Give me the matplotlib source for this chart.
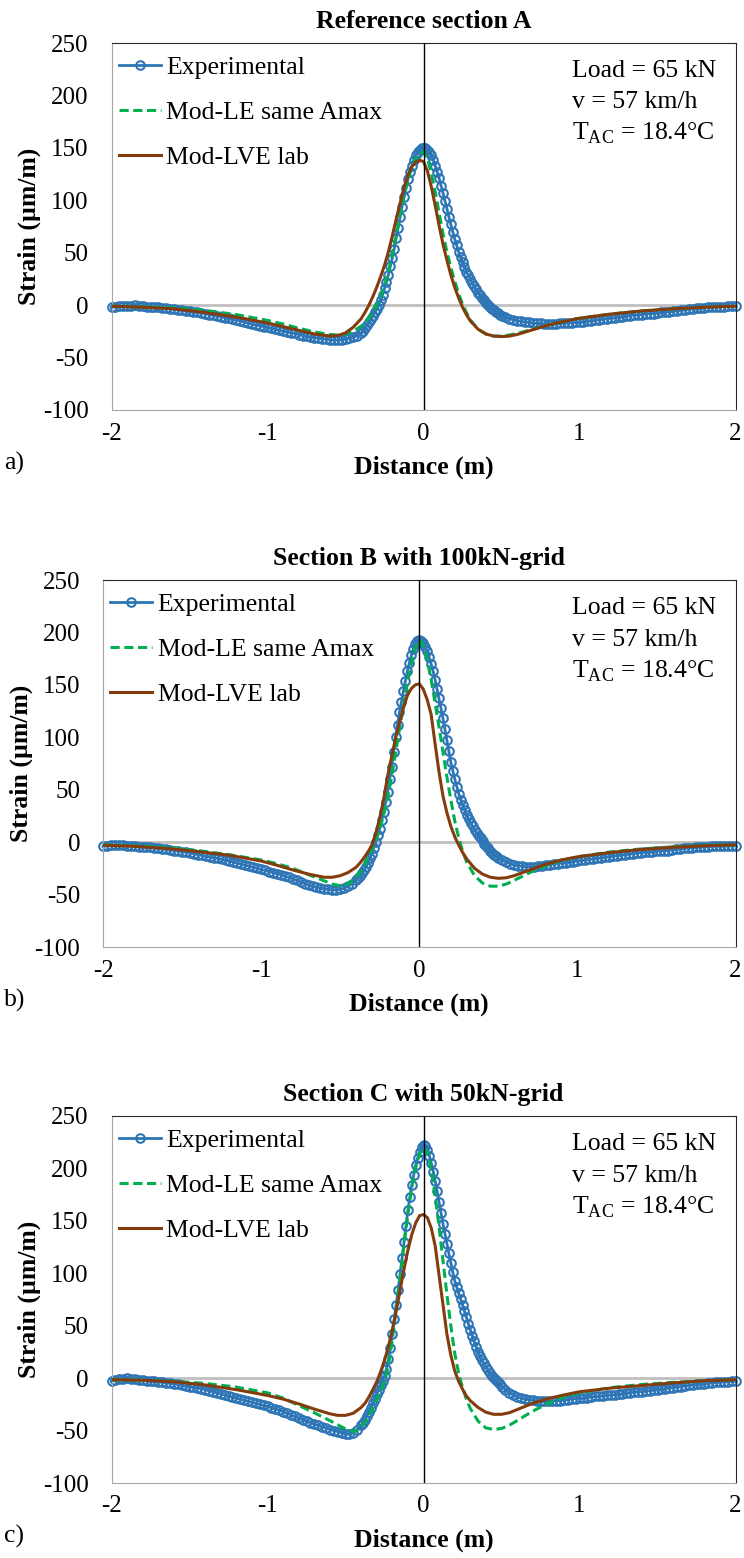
import matplotlib
matplotlib.use('Agg')
import matplotlib.pyplot as plt
import numpy as np

plt.rcParams['font.family'] = ['Liberation Serif', 'DejaVu Serif']
plt.rcParams['axes.unicode_minus'] = False
plt.rcParams['mathtext.fontset'] = 'custom'
plt.rcParams['mathtext.rm'] = 'Liberation Serif'

# ---------------- data (strain in micro-strain, distance in m) ----------------
x_ticks = [-2, -1, 0, 1, 2]
y_ticks = [-100, -50, 0, 50, 100, 150, 200, 250]

# experimental gauge signal: every 0.025 m from -2 to -0.425,
# every 0.0125 m from -0.4 to 0.5, every 0.025 m from 0.525 to 2
exp_x = np.concatenate([np.linspace(-2.0, -0.425, 64),
                        np.linspace(-0.4, 0.5, 73),
                        np.linspace(0.525, 2.0, 60)])

exp_a = [
    -2, -1.5, -1, -1, -1, -0.5, 0, -0.5, -1, -1.5,
    -1.5, -2, -2, -2.5, -3, -3.5, -4, -4.5, -5, -5.5,
    -6, -6.5, -7, -7.5, -8, -9, -9.5, -10.5, -11, -12,
    -12.5, -13.5, -14, -15, -16, -17, -18, -19, -19.5, -20.5,
    -21, -22, -23, -24, -25, -25.5, -26.5, -27, -28, -29,
    -29.5, -30.5, -31, -31.5, -32, -32.5, -33, -33.5, -33.5, -33,
    -32.5, -31.5, -30.5, -29,
    # fine part
    -27, -25, -22, -19, -16, -13, -10, -7,
    -4, 0.5, 5, 10, 16, 22, 29, 37,
    45, 54, 64, 74, 84, 94, 103, 112,
    120, 127, 133, 138.5, 143, 146, 148, 149.5,
    150, 149.5, 148, 146, 143, 138.5, 133, 127,
    121, 114, 107, 99.5, 92, 84.5, 77, 70,
    63, 57, 51, 46, 41, 36.5, 32, 28.5,
    25, 21.5, 18, 15, 12, 9.5, 7, 4.5,
    2, 0, -1.5, -3.5, -5, -6.5, -7.5, -9,
    -10,
    # right tail
    -11.5, -13, -14, -15, -15.5, -16, -16.5, -17, -17.5, -17.5,
    -18, -18, -18, -18, -17.5, -17.5, -17, -17, -16.5, -16.5,
    -16, -15.5, -15, -14.5, -14, -13.5, -13, -12.5, -12, -11.5,
    -11, -10.5, -10, -9.5, -9.5, -9, -8.5, -8, -8, -7.5,
    -7, -6.5, -6.5, -6, -5.5, -5, -4.5, -4, -3.5, -3,
    -3, -2.5, -2, -2, -1.5, -1.5, -1.5, -1, -1, -1,
]
exp_b = [
    -4, -3.5, -3, -3, -3, -3, -3.5, -3.5, -4, -4.5,
    -4.5, -5, -5, -5.5, -6, -6.5, -7, -7.5, -8, -8.5,
    -9, -9.5, -10.5, -11, -12, -12.5, -13.5, -14, -15, -15.5,
    -16.5, -17, -18, -19, -20, -21, -22, -23, -24, -25,
    -26, -27, -28, -29, -30, -31, -32.5, -33.5, -35, -36.5,
    -38, -39.5, -41, -42, -43, -44, -44.5, -45, -45.5, -45.5,
    -45, -44, -42, -39.5,
    # fine part
    -36, -34, -32, -29.5, -27, -23.5, -20, -15.5,
    -11, -5.5, 0, 6.5, 13, 21, 29, 38,
    48, 60, 72, 86, 100, 112, 124, 134,
    144, 154, 163, 171, 178, 184, 189, 191.5,
    193, 192, 190, 186.5, 182, 176.5, 170, 163,
    155, 146, 137, 127.5, 118, 107.5, 97, 86.5,
    76, 68, 60, 53, 46, 40.5, 35, 30.5,
    26, 22, 18.5, 15, 12, 9, 6, 3.5,
    1, -1.5, -4, -6, -8, -10, -12, -13.5,
    -15,
    # right tail
    -17, -19, -20.5, -22, -22.5, -23, -23.5, -23.5, -23.5, -23,
    -22.5, -22, -21.5, -21, -20.5, -20, -19.5, -19, -18.5, -18,
    -17.5, -17, -16.5, -16, -15.5, -15, -14.5, -14, -13.5, -13,
    -12.5, -12, -11.5, -11, -10.5, -10, -9.5, -9.5, -9, -8.5,
    -8.5, -8, -8, -7.5, -7, -6.5, -6, -5.5, -5.5, -5,
    -5, -4.5, -4.5, -4, -4, -4, -4, -3.5, -3.5, -3.5,
]
exp_c = [
    -3, -2, -1, -0.5, 0, -0.5, -1, -1.5, -2, -2.5,
    -3, -3, -3.5, -4, -4.5, -5, -5.5, -6, -7, -7.5,
    -8, -8.5, -9.5, -10, -11, -12, -13, -14, -15, -16,
    -17, -18, -19, -20, -21, -22, -23, -24, -25, -26,
    -27, -28, -29.5, -30.5, -32, -33.5, -35, -36.5, -38, -39.5,
    -41, -42.5, -44, -45, -46.5, -47.5, -49, -50, -51, -52,
    -53, -53.5, -52, -49.5,
    # fine part
    -45, -43, -40, -36, -32, -28, -24, -19.5,
    -15, -11, -7, -2.5, 2, 9, 18, 29,
    42, 56, 70, 84.5, 99, 114.5, 130, 145,
    160, 172.5, 184, 194, 203, 210, 216, 220,
    222, 221, 218, 212, 205, 197, 188, 178,
    168, 157.5, 147, 137.5, 128, 119, 110, 101.5,
    93, 87, 81, 75.5, 70, 64, 58, 52,
    46, 40.5, 35, 30, 25, 21, 17, 14,
    11, 8, 5, 2.5, 0, -2, -4, -6,
    -8,
    # right tail
    -11, -14, -16, -18, -19, -20, -20.5, -21, -21.5, -22,
    -22, -22, -22, -21.5, -21.5, -21, -20.5, -20, -19.5, -19,
    -19, -18.5, -18, -17.5, -17.5, -17, -16.5, -16, -16, -15.5,
    -15, -14.5, -14, -13.5, -13, -13, -12.5, -12, -11.5, -11,
    -10.5, -10, -9.5, -9, -8.5, -8, -7.5, -7, -6.5, -6,
    -5.5, -5.5, -5, -4.5, -4, -4, -3.5, -3.5, -3, -3,
]

# model responses
model_x = [-2.0, -1.8, -1.6, -1.4, -1.2, -1.0,
           -0.9, -0.8, -0.7, -0.6,
           -0.55, -0.5, -0.45, -0.4,
           -0.375, -0.35, -0.325, -0.3,
           -0.275, -0.25, -0.225, -0.2,
           -0.175, -0.15, -0.125, -0.1,
           -0.075, -0.05, -0.025, 0.0,
           0.025, 0.05, 0.075, 0.1,
           0.125, 0.15, 0.175, 0.2,
           0.225, 0.25, 0.275, 0.3,
           0.35, 0.4, 0.45, 0.5,
           0.55, 0.6, 0.7, 0.8,
           0.9, 1.0, 1.2, 1.4,
           1.6, 1.8, 2.0]

le_a = [-1, -1.5, -2.5, -5, -9, -14.5,
        -18, -22, -25.5, -28,
        -28.5, -27.5, -25, -20,
        -16.5, -12, -6, 0,
        8, 19, 32, 48,
        66, 86, 104, 119,
        131, 140, 145, 146,
        140, 126, 108, 88,
        68, 51, 36, 23,
        11, 1, -7, -14,
        -23, -27.5, -29.5, -29.5,
        -28.5, -27, -23, -19,
        -15.5, -12.5, -8.5, -5.5,
        -3.5, -2, -1]
lve_a = [-1, -2, -3.5, -7, -11.5, -17,
         -20.5, -24, -27.5, -29.5,
         -29, -26.5, -21, -13,
         -7, 0, 8, 17,
         27, 38, 51, 66,
         82, 97, 112, 124,
         132, 136.5, 138, 137,
         128, 113, 95, 76,
         58, 43, 29, 17,
         7, -2, -9, -15,
         -23, -27.5, -29.5, -30,
         -29.5, -28, -23.5, -19,
         -15.5, -12.5, -8.5, -5.5,
         -3.5, -2, -1]

le_b = [-2.5, -3.5, -5, -8, -12, -17,
        -20.5, -25, -31, -37,
        -40, -41.5, -40, -34,
        -29, -23, -15, -7,
        2, 12, 26, 42,
        62, 85, 108, 130,
        152, 170, 185, 193,
        188, 174, 155, 133,
        110, 86, 62, 40,
        20, 4, -9, -19,
        -32, -39, -42, -42,
        -40, -36.5, -29, -22.5,
        -17.5, -14, -9.5, -6.5,
        -4.5, -3, -2.5]
lve_b = [-3, -4, -6, -9, -12.5, -18,
         -22, -26.5, -30.5, -33.5,
         -33.5, -32, -29, -24,
         -20, -15, -9.5, -3,
         8, 23, 41, 63,
         81, 99, 114, 128,
         140, 146.5, 150, 151,
         146, 136, 122, 94,
         67, 44, 28, 15,
         5, -3, -10, -16,
         -25, -30.5, -33.5, -34.5,
         -34, -32, -26.5, -21,
         -17, -14, -10, -7,
         -5, -3.5, -2.5]

le_c = [-1.5, -2, -3, -5, -8.5, -14,
        -19, -26, -33, -40.5,
        -44.5, -48.5, -51, -47,
        -42, -36, -28.5, -20,
        -11.5, -4, 12, 36,
        66, 96, 127, 156,
        182, 201, 214, 220,
        215, 199, 174, 144,
        112, 80, 50, 24,
        5, -9, -20, -29,
        -41, -47.5, -49, -48,
        -45, -40.5, -31.5, -24,
        -18, -14, -9, -6,
        -4, -2.5, -1.5]
lve_c = [-1.5, -2, -3.5, -6.5, -11, -16.5,
         -20, -24.5, -29.5, -34,
         -35.5, -35.5, -33.5, -28,
         -24, -18, -11, -3.5,
         6, 17, 30, 46,
         64, 84, 104, 122,
         137, 148, 155, 156,
         153, 143, 126, 98,
         70, 42, 22, 7,
         -3, -10.5, -17, -21.5,
         -28, -32.5, -34.5, -34.5,
         -33, -30, -24, -19.5,
         -16, -13, -9.5, -7,
         -4.5, -2.5, -1.5]

titles = ['Reference section A', 'Section B with 100kN-grid', 'Section C with 50kN-grid']
tags = ['a)', 'b)', 'c)']
info = ['Load = 65 kN', 'v = 57 km/h', r'T$_{\mathregular{AC}}$ = 18.4°C']

BLUE = '#2E75B6'
GREEN = '#00B050'
BROWN = '#843C0C'

# ---------------- layout (pixels of a 744 x 1558 image) ----------------
W, H = 744, 1558
boxes = [(111.5, 43, 735.5, 410), (103, 580, 735.5, 947), (111.5, 1116, 735.5, 1483)]
FS = 18.5

fig = plt.figure(figsize=(W / 100, H / 100), dpi=100)

series = [(exp_a, le_a, lve_a), (exp_b, le_b, lve_b), (exp_c, le_c, lve_c)]
for (exp, le, lve), title, tag, (l, t, r, b) in zip(series, titles, tags, boxes):
    pw, ph = r - l, b - t
    ax = fig.add_axes([l / W, 1 - b / H, pw / W, ph / H])

    ax.axhline(0, color='#BFBFBF', lw=2, zorder=1)
    ax.plot(exp_x, exp, color=BLUE, lw=2, marker='o', ms=6.2, mfc='none', mew=1.5,
            label='Experimental', zorder=2, clip_on=False)
    ax.plot(model_x, le, color=GREEN, lw=2.2, ls=(0, (3, 1.5)),
            label='Mod-LE same Amax', zorder=3)
    ax.plot(model_x, lve, color=BROWN, lw=2.2, label='Mod-LVE lab', zorder=4)
    ax.axvline(0, color='black', lw=1, zorder=5)

    ax.set_xlim(-2, 2)
    ax.set_ylim(-100, 250)
    ax.set_xticks(x_ticks)
    ax.set_yticks(y_ticks)
    ax.tick_params(length=0, labelsize=18)
    ax.tick_params(axis='y', pad=16.5)
    ax.tick_params(axis='x', pad=9)
    for side in ['left', 'bottom']:
        ax.spines[side].set_color('#A6A6A6')
    for side in ['top', 'right']:
        ax.spines[side].set_color('#262626')
    for sp in ax.spines.values():
        sp.set_linewidth(0.8)

    ax.legend(loc='upper left', bbox_to_anchor=(7 / pw, 1 - 13 / ph), frameon=False,
              fontsize=FS, handlelength=1.65, handletextpad=0.2, labelspacing=0.85,
              borderpad=0, borderaxespad=0)

    for k, line in enumerate(info):
        ax.text((572 - l) / pw, 1 - (34 + 31.5 * k) / ph, line, transform=ax.transAxes,
                fontsize=FS, ha='left', va='baseline')

    fig.text((l + r) / 2 / W, 1 - (t - 22) / H, title, ha='center', va='center',
             fontsize=FS, fontweight='bold')
    fig.text((l + r) / 2 / W, 1 - (b + 57) / H, 'Distance (m)', ha='center', va='center',
             fontsize=FS, fontweight='bold')
    fig.text(4 / W, 1 - (b + 53) / H, tag, ha='left', va='center', fontsize=FS)
    fig.text((l - 82) / W, 1 - (t + b) / 2 / H, 'Strain (µm/m)', rotation=90,
             ha='center', va='center', fontsize=FS, fontweight='bold')

fig.savefig('out.png', dpi=100)
